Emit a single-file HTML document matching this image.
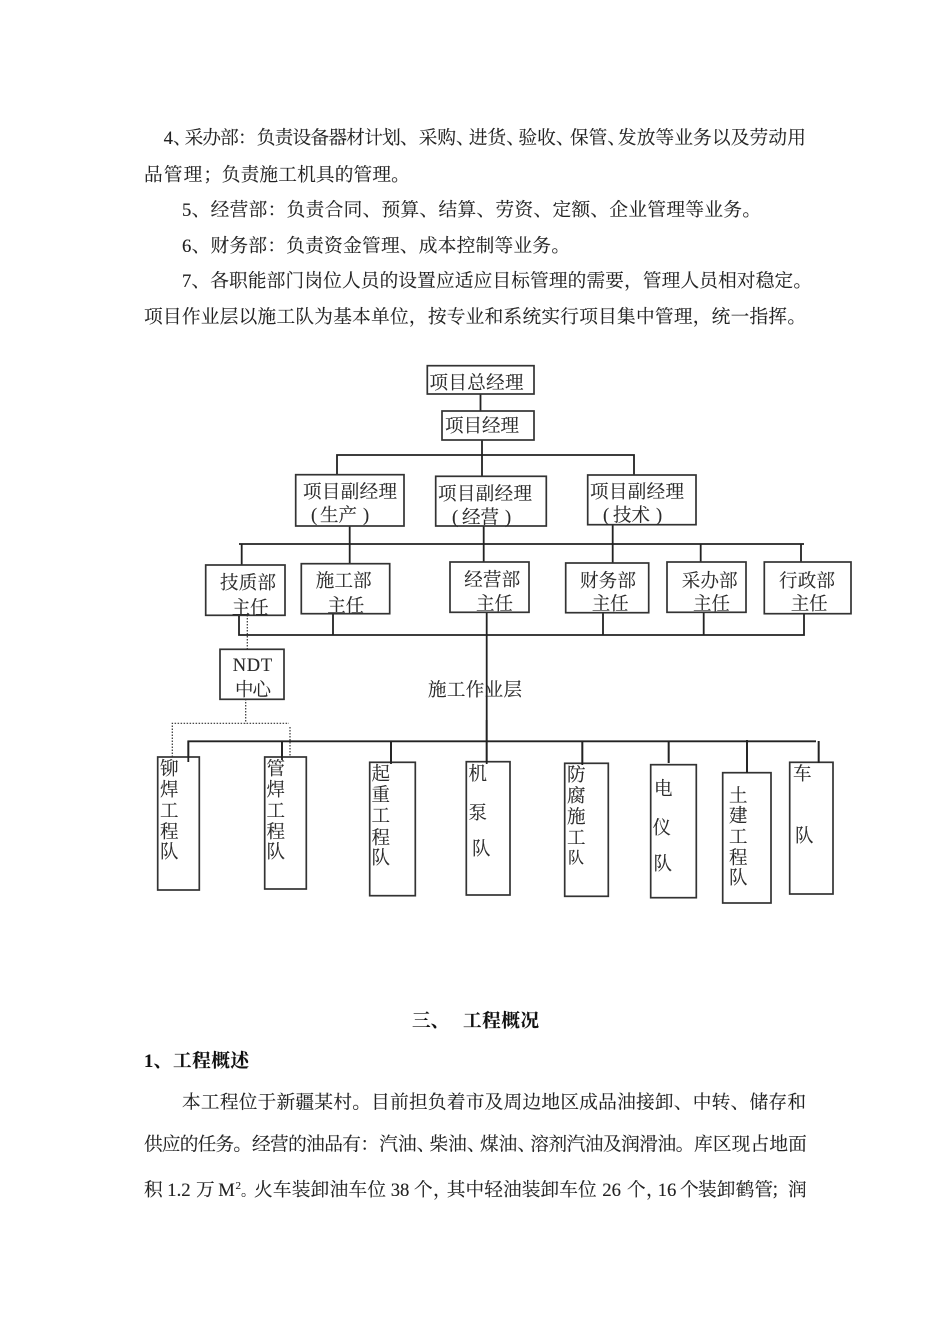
<!DOCTYPE html>
<html><head><meta charset="utf-8"><style>
html,body{margin:0;padding:0;background:#fff}
svg{display:block}
text{font-family:"Liberation Serif","Noto Serif CJK SC",serif;fill:#222;font-size:18.67px;stroke:#222;stroke-width:.12px}
.b{font-size:18.5px;fill:#2a2a2a}
.h{font-weight:bold;fill:#111}
.box rect{fill:#fff;stroke:#333;stroke-width:1.7}
.ln path{fill:none;stroke:#222;stroke-width:1.8}
.dot path{fill:none;stroke:#333;stroke-width:1.2;stroke-dasharray:1.5 1.5}
</style></head><body>
<svg width="950" height="1344" viewBox="0 0 950 1344" xmlns="http://www.w3.org/2000/svg">
<rect width="950" height="1344" fill="#fff"/>

<!-- body text top -->
<text x="163.6" y="144">4</text><text x="173" y="144">、</text>
<text x="184.6" y="144" textLength="72" >采办部：</text>
<text x="256.7" y="144" textLength="162">负责设备器材计划、</text>
<text x="418.7" y="144">采购、</text><text x="468.9" y="144">进货、</text><text x="518.5" y="144">验收、</text><text x="570" y="144">保管、</text>
<text x="617.9" y="144" textLength="188">发放等业务以及劳动用</text>
<text x="144" y="181" textLength="78">品管理；</text><text x="221.8" y="181" textLength="188">负责施工机具的管理。</text>
<text x="182" y="216" textLength="579">5、经营部：负责合同、预算、结算、劳资、定额、企业管理等业务。</text>
<text x="182" y="252" textLength="388">6、财务部：负责资金管理、成本控制等业务。</text>
<text x="182" y="287" textLength="630">7、各职能部门岗位人员的设置应适应目标管理的需要，管理人员相对稳定。</text>
<text x="144" y="323" textLength="662">项目作业层以施工队为基本单位，按专业和系统实行项目集中管理，统一指挥。</text>

<!-- connectors -->
<g class="ln">
<path d="M480.5 394V411M482 440V476M337 475V455H634V475"/>
<path d="M239 544H804M241.7 544V565M349.7 526V564M483.7 526V562M612.7 525V563M700.7 544V563M801 544V562"/>
<path d="M239 615V635H804V614M333 614V635M603 613V635M703.7 612V635M486.7 612V763"/>
<path d="M188.3 760V741.3H816M282 741V757M391 742V763M582.3 742V763M668.7 742V763M747 740V773M818.7 741V762"/>
</g>
<g class="dot">
<path d="M247.3 615V650M245.7 699V723.3M172.3 757V723.3H289M290 727V759"/>
</g>

<!-- boxes -->
<g class="box">
<rect x="427.3" y="365.7" width="106.7" height="28.3"/>
<rect x="442" y="411" width="92" height="29"/>
<rect x="295.7" y="474.7" width="108.3" height="51.3"/>
<rect x="435.7" y="476.3" width="110.6" height="49.7"/>
<rect x="587.7" y="475" width="108.3" height="49.7"/>
<rect x="205.7" y="565" width="79.3" height="50.3"/>
<rect x="301.3" y="563.7" width="88.4" height="50"/>
<rect x="450" y="562" width="79" height="50.3"/>
<rect x="565.7" y="563" width="83" height="49.7"/>
<rect x="667" y="562" width="79" height="50.3"/>
<rect x="764.3" y="562" width="86.7" height="51.7"/>
<rect x="220" y="649.3" width="64" height="50"/>
<rect x="157.7" y="757" width="41.6" height="133"/>
<rect x="264.7" y="757" width="41.6" height="132"/>
<rect x="369.7" y="762.3" width="45.6" height="133.4"/>
<rect x="466.3" y="761.7" width="43.7" height="133.3"/>
<rect x="564.7" y="763.3" width="43.6" height="133"/>
<rect x="650.7" y="764.7" width="45.6" height="133"/>
<rect x="722.7" y="772.7" width="48.3" height="130.3"/>
<rect x="789.7" y="762.3" width="43.3" height="131.7"/>
</g>
<g class="ln"><path d="M188.3 741V762M282 741V760M391 742V764M486.7 720V764M582.3 742V765M668.7 742V763M747 740V773M818.7 741V763"/></g>

<!-- box labels -->
<text class="b" x="429.5" y="389" textLength="94">项目总经理</text>
<text class="b" x="445" y="432" textLength="74">项目经理</text>
<text class="b" x="303" y="498" textLength="94">项目副经理</text>
<text class="b" x="311" y="521">(</text><text class="b" x="320" y="521.5" textLength="37">生产</text><text class="b" x="363" y="521">)</text>
<text class="b" x="438" y="500" textLength="94">项目副经理</text>
<text class="b" x="452" y="523">(</text><text class="b" x="462" y="523.5" textLength="37">经营</text><text class="b" x="505" y="523">)</text>
<text class="b" x="590" y="498" textLength="94">项目副经理</text>
<text class="b" x="603" y="521">(</text><text class="b" x="613" y="521.5" textLength="37">技术</text><text class="b" x="656" y="521">)</text>
<text class="b" x="220" y="589" textLength="56">技质部</text><text class="b" x="231.7" y="614" textLength="37">主任</text>
<text class="b" x="315.7" y="587" textLength="56">施工部</text><text class="b" x="327.3" y="612" textLength="37">主任</text>
<text class="b" x="464.3" y="586" textLength="56">经营部</text><text class="b" x="476" y="610" textLength="37">主任</text>
<text class="b" x="580" y="587" textLength="56">财务部</text><text class="b" x="591.7" y="610" textLength="37">主任</text>
<text class="b" x="681.7" y="587" textLength="56">采办部</text><text class="b" x="693" y="610" textLength="37">主任</text>
<text class="b" x="779" y="587" textLength="56">行政部</text><text class="b" x="790.7" y="610" textLength="37">主任</text>
<text class="b" x="232.7" y="671" textLength="39.5">NDT</text>
<text class="b" x="235" y="696" textLength="36">中心</text>
<text class="b" x="428" y="696" textLength="94">施工作业层</text>

<text class="b" x="160 160 160 160 160" y="775 796 817 838 858">铆焊工程队</text>
<text class="b" x="266.5 266.5 266.5 266.5 266.5" y="775 796 817 838 858">管焊工程队</text>
<text class="b" x="371.5 371.5 371.5 371.5 371.5" y="780 801 822 844 864">起重工程队</text>
<text class="b" x="468.5" y="780">机</text><text class="b" x="468.5" y="819">泵</text><text class="b" x="472" y="855">队</text>
<text class="b" x="567 567 567 567" y="781 802 823 844">防腐施工</text><text x="568" y="863" style="font-size:16px">队</text>
<text class="b" x="654" y="795">电</text><text class="b" x="652.5" y="834">仪</text><text class="b" x="653.5" y="870">队</text>
<text class="b" x="729 729 729 729 729" y="802 822 843 864 884">土建工程队</text>
<text class="b" x="793" y="780">车</text><text class="b" x="795" y="842">队</text>

<!-- bottom text -->
<text class="h" x="412" y="1027">三、</text>
<text class="h" x="463" y="1027" textLength="76">工程概况</text>
<text class="h" x="144" y="1067">1</text><text class="h" x="153.5" y="1067">、</text>
<text class="h" x="173" y="1067" textLength="76">工程概述</text>
<text x="182" y="1108.5" textLength="624">本工程位于新疆某村。目前担负着市及周边地区成品油接卸、中转、储存和</text>
<text x="144" y="1150.5" textLength="108">供应的任务。</text>
<text x="252" y="1150.5" textLength="127">经营的油品有：</text>
<text x="379.3" y="1150.5">汽油、</text><text x="429.5" y="1150.5">柴油、</text><text x="480" y="1150.5">煤油、</text>
<text x="530.3" y="1150.5" textLength="164">溶剂汽油及润滑油。</text>
<text x="694" y="1150.5" textLength="112.8">库区现占地面</text>
<text x="144" y="1196">积</text>
<text x="167.3" y="1196">1.2</text>
<text x="196" y="1196">万</text>
<text x="218.3" y="1196">M</text>
<text x="235.5" y="1189" style="font-size:11px">2</text>
<text x="241" y="1196" style="font-size:14px">。</text>
<text x="254" y="1196" textLength="132">火车装卸油车位</text>
<text x="390.7" y="1196">38</text>
<text x="414" y="1196">个</text>
<text x="433" y="1196">，</text>
<text x="446.7" y="1196" textLength="150">其中轻油装卸车位</text>
<text x="602.3" y="1196">26</text>
<text x="627" y="1196">个</text>
<text x="646" y="1196">，</text>
<text x="657.7" y="1196">16</text>
<text x="680" y="1196">个</text>
<text x="698" y="1196" textLength="75">装卸鹤管</text>
<text x="771" y="1196">；</text>
<text x="788" y="1196">润</text>
</svg>
</body></html>
